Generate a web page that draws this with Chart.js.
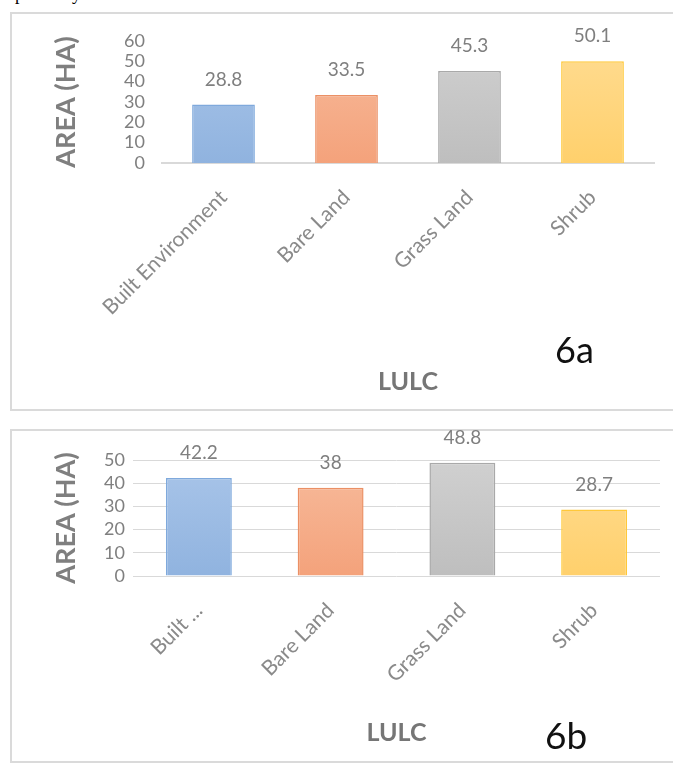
<!DOCTYPE html>
<html>
<head>
<meta charset="utf-8">
<script src="https://cdn.jsdelivr.net/npm/chart.js@4.4.1/dist/chart.umd.min.js"></script>
<style>
  html, body { margin: 0; padding: 0; background: #fff; }
  body { width: 673px; height: 767px; position: relative; overflow: hidden; }
  .panel { position: absolute; left: 10px; width: 690px; border: 2px solid #dadada; box-sizing: border-box; background: #fff; }
  #pA { top: 12px; height: 399px; }
  #pB { top: 429px; height: 334px; }
  .wrap { position: absolute; left: 0; width: 673px; }
  .tag { position: absolute; font-family: Lato, sans-serif; color: #111; line-height: 1; }
  #prev { position: absolute; left: -6px; top: -15px; font: 18px 'Liberation Serif', serif; line-height: 18px; color: #000; }
</style>
</head>
<body>
<div id="prev">respectively</div>
<div class="panel" id="pA"></div>
<div class="panel" id="pB"></div>
<div class="wrap" style="top:0;height:411px"><canvas id="cA" width="673" height="411"></canvas></div>
<div class="wrap" style="top:425px;height:342px"><canvas id="cB" width="673" height="342"></canvas></div>
<div class="tag" style="left:555px;top:331px;font-size:36px">6a</div>
<div class="tag" style="left:545px;top:716px;font-size:37px">6b</div>
<script>
// figure 6a
const catsA = ['Built Environment', 'Bare Land', 'Grass Land', 'Shrub'];
const valsA = [28.8, 33.5, 45.3, 50.1];
const ticksA = [0, 10, 20, 30, 40, 50, 60];

// figure 6b
const catsB = ['Built ...', 'Bare Land', 'Grass Land', 'Shrub'];
const valsB = [42.2, 38, 48.8, 28.7];
const ticksB = [0, 10, 20, 30, 40, 50];

const fillTop = ['#a9c5e9', '#f7bb9c', '#d0d0d0', '#ffdc92'];
const fillBot = ['#90b3df', '#f4a27b', '#bebebe', '#ffd06c'];
const edges = ['#7fa9dc', '#eb9065', '#a9a9a9', '#ffc83a'];

const grey = '#7f7f7f';
const fam = 'Lato, sans-serif';

const valueLabels = {
    id: 'valueLabels',
    afterDatasetsDraw(chart, args, opts) {
        const ctx = chart.ctx;
        const ds = chart.data.datasets[0];
        ctx.save();
        ctx.font = opts.size + 'px ' + fam;
        ctx.fillStyle = grey;
        ctx.textAlign = 'center';
        ctx.textBaseline = 'middle';
        chart.getDatasetMeta(0).data.forEach((bar, i) => {
            ctx.fillText(String(ds.data[i]), bar.x, bar.y - opts.offset);
        });
        ctx.restore();
    }
};

function makeChart(id, cats, vals, ticks, c) {
    return new Chart(document.getElementById(id), {
        type: 'bar',
        data: {
            labels: cats,
            datasets: [{
                data: vals,
                backgroundColor: function (t) {
                    const a = t.chart.chartArea;
                    const i = t.dataIndex;
                    if (!a) return fillBot[i];
                    const g = t.chart.ctx.createLinearGradient(0, a.top, 0, a.bottom);
                    g.addColorStop(0, fillTop[i]);
                    g.addColorStop(1, fillBot[i]);
                    return g;
                },
                borderColor: edges,
                borderWidth: 1.5,
                barPercentage: c.bar,
                categoryPercentage: 1
            }]
        },
        options: {
            responsive: false,
            animation: false,
            layout: { padding: { left: 50, right: c.right, top: c.top, bottom: 0 } },
            plugins: {
                legend: { display: false },
                tooltip: { enabled: false },
                valueLabels: { size: 19, offset: 25 }
            },
            scales: {
                x: {
                    grid: { display: false, drawTicks: false },
                    border: { display: c.axisLine, color: '#d9d9d9', width: 2 },
                    ticks: {
                        color: '#8a8a8a',
                        font: { family: fam, size: 21 },
                        maxRotation: 45,
                        minRotation: 45,
                        autoSkip: false,
                        padding: 22
                    },
                    title: {
                        display: true,
                        text: 'LULC',
                        color: '#767676',
                        font: { family: fam, size: 25, weight: 'bold' },
                        padding: { top: 0, bottom: c.titlePad }
                    },
                    afterFit: s => { s.height = c.xh; }
                },
                y: {
                    min: ticks[0],
                    max: ticks[ticks.length - 1],
                    afterBuildTicks: s => { s.ticks = ticks.map(v => ({ value: v })); },
                    grid: { display: c.grid, color: '#d9d9d9', lineWidth: 1, drawTicks: false },
                    border: { display: false },
                    ticks: {
                        color: grey,
                        font: { family: fam, size: 18 },
                        autoSkip: false,
                        padding: c.tickPad
                    },
                    title: {
                        display: true,
                        text: 'AREA (HA)',
                        color: grey,
                        font: { family: fam, size: 27, weight: 'bold' },
                        padding: 0
                    },
                    afterFit: s => { s.width = c.yw; }
                }
            }
        },
        plugins: [valueLabels]
    });
}

makeChart('cA', catsA, valsA, ticksA, {
    bar: 0.51, right: 19, top: 41, xh: 248, yw: 112, tickPad: 17,
    titlePad: 14, grid: false, axisLine: true
});
makeChart('cB', catsB, valsB, ticksB, {
    bar: 0.5, right: 13, top: 35, xh: 191, yw: 83, tickPad: 8,
    titlePad: 19, grid: true, axisLine: false
});
</script>
</body>
</html>
